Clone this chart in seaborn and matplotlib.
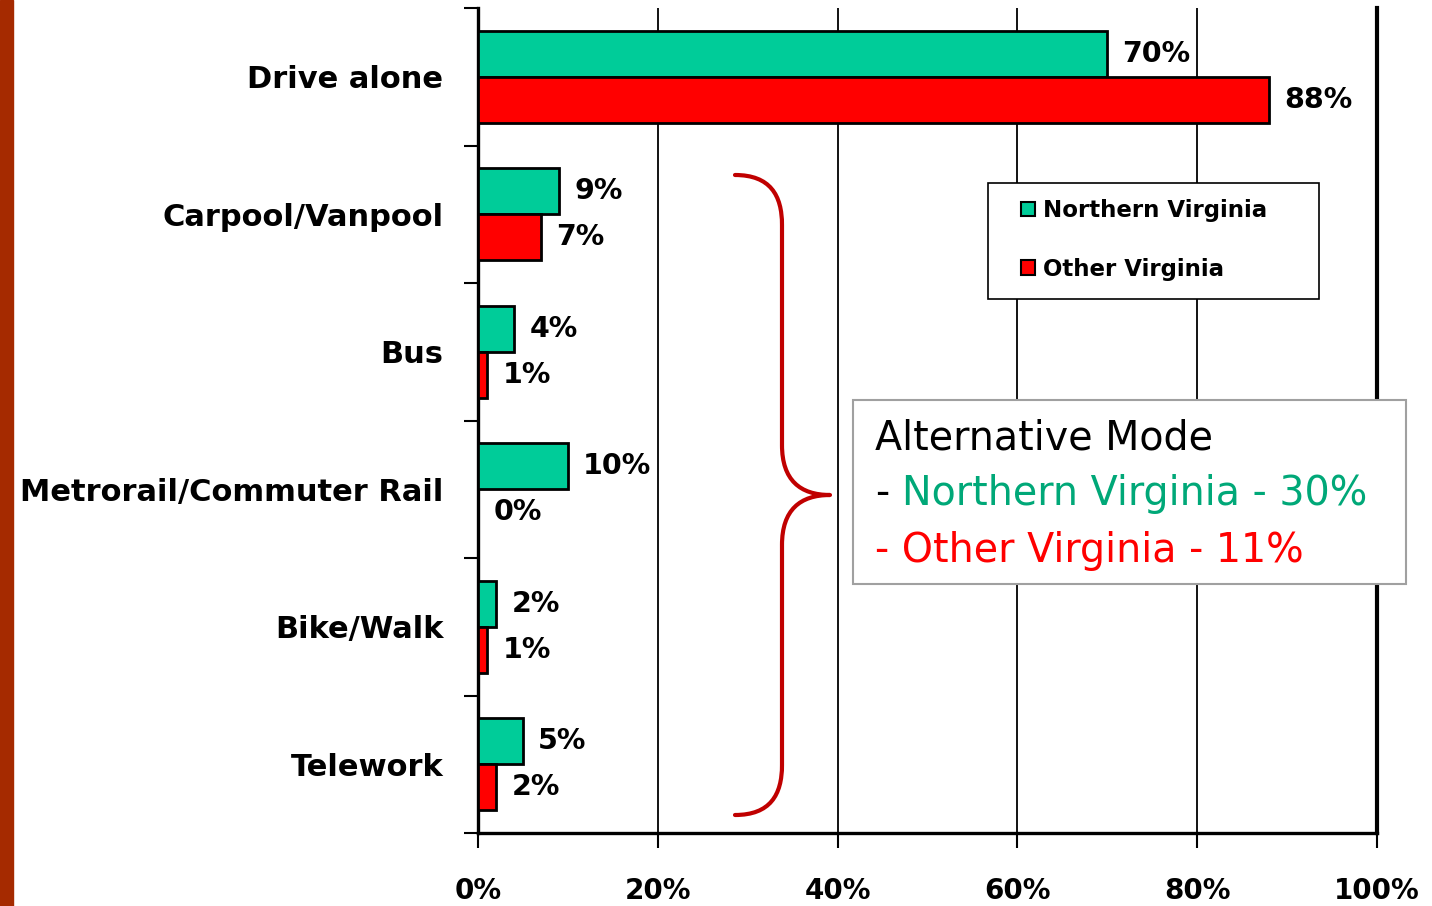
import numpy as np
import pandas as pd
import matplotlib
matplotlib.use("Agg")
import matplotlib.pyplot as plt
import seaborn as sns
from matplotlib.patches import Rectangle, PathPatch
from matplotlib.path import Path
from matplotlib.transforms import Affine2D

# data
modes = ["Drive alone", "Carpool/Vanpool", "Bus", "Metrorail/Commuter Rail", "Bike/Walk", "Telework"]
nova = [70, 9, 4, 10, 2, 5]
other = [88, 7, 1, 0, 1, 2]
regions = ["Northern Virginia", "Other Virginia"]
xticks = [0, 20, 40, 60, 80, 100]

green = "#00CC99"
red = "#FF0000"

df = pd.DataFrame({
    "mode": modes + modes,
    "region": [regions[0]] * len(modes) + [regions[1]] * len(modes),
    "share": nova + other,
})

sns.set_style("white")
plt.rcParams["font.family"] = ["DejaVu Sans"]
plt.rcParams["text.color"] = "black"
plt.rcParams["xtick.color"] = "black"
plt.rcParams["ytick.color"] = "black"

W, H = 1432, 906
fig = plt.figure(figsize=(W / 100, H / 100), dpi=100)
ax = fig.add_axes([478 / W, (H - 833) / H, 899 / W, 825 / H])
px = Affine2D().scale(1 / W, -1 / H).translate(0, 1) + fig.transFigure

sns.barplot(data=df, y="mode", x="share", hue="region", orient="h",
            palette=[green, red], saturation=1, width=0.67,
            edgecolor="black", linewidth=2, ax=ax, zorder=3)

for cont, vals in zip(ax.containers, [nova, other]):
    ax.bar_label(cont, labels=[f"{v}%" for v in vals], padding=11,
                 fontsize=20.5, fontweight="bold", color="black")

ax.set_xlim(0, 100)
ax.set_ylim(5.5, -0.5)
ax.set_xticks(xticks)
ax.set_xticklabels([f"{t}%" for t in xticks], fontsize=20, fontweight="bold")
ax.set_yticks(range(len(modes)))
ax.set_yticklabels(modes, fontsize=22, fontweight="bold")
ax.set_yticks(np.arange(-0.5, len(modes), 1), minor=True)
ax.tick_params(axis="y", which="both", left=True)
ax.tick_params(axis="y", which="major", length=0, pad=25)
ax.tick_params(axis="y", which="minor", length=10, width=1.5, direction="out")
ax.tick_params(axis="x", bottom=True, length=11, width=1.5, direction="out", pad=21)
ax.set_xlabel("")
ax.set_ylabel("")
ax.grid(axis="x", color="black", linewidth=1.3, zorder=0)
ax.set_axisbelow(True)

for side in ["left", "bottom"]:
    ax.spines[side].set_color("black")
    ax.spines[side].set_linewidth(2.4)
ax.spines["right"].set_color("black")
ax.spines["right"].set_linewidth(3)
ax.spines["top"].set_visible(False)

# legend (frame drawn separately to get the wide side margins)
leg = ax.legend(loc="center left", bbox_to_anchor=((1021 - 478) / 899, 1 - (240 - 8) / 825),
                fontsize=16.5, frameon=False,
                handlelength=0.6, handleheight=0.6, handletextpad=0.35,
                labelspacing=1.55, borderpad=0, borderaxespad=0)
for t in leg.get_texts():
    t.set_fontweight("bold")
for h in leg.legend_handles:
    h.set_edgecolor("black")
    h.set_linewidth(1.5)
leg.set_zorder(7)
ax.add_patch(Rectangle((988, 183), 331, 116, transform=px, facecolor="white",
                       edgecolor="black", linewidth=1.2, zorder=6, clip_on=False))

# left strip
fig.patches.append(Rectangle((0, 0), 13 / W, 1, transform=fig.transFigure,
                             color="#A52A00", zorder=0))

# brace (figure pixel coords, y down)
verts = [(735, 175), (770, 175), (782, 195), (782, 225),
         (782, 445),
         (782, 480), (800, 495), (830, 495),
         (800, 495), (782, 510), (782, 545),
         (782, 765),
         (782, 795), (770, 815), (735, 815)]
codes = [Path.MOVETO, Path.CURVE4, Path.CURVE4, Path.CURVE4,
         Path.LINETO,
         Path.CURVE4, Path.CURVE4, Path.CURVE4,
         Path.CURVE4, Path.CURVE4, Path.CURVE4,
         Path.LINETO,
         Path.CURVE4, Path.CURVE4, Path.CURVE4]
fig.patches.append(PathPatch(Path(verts, codes), transform=px, fill=False,
                             edgecolor="#C00000", linewidth=3, capstyle="round",
                             joinstyle="round", zorder=4))

# summary box
fig.patches.append(Rectangle((853 / W, 1 - 584 / H), 553 / W, 184 / H,
                             transform=fig.transFigure, facecolor="white",
                             edgecolor="#A0A0A0", linewidth=1.5, zorder=5))
fs = 28.5
fig.text(875 / W, 1 - 438 / H, "Alternative Mode", fontsize=fs, color="black",
         va="center", ha="left", zorder=6)
fig.text(875 / W, 1 - 494 / H, "-", fontsize=fs, color="black",
         va="center", ha="left", zorder=6)
fig.text(902 / W, 1 - 494 / H, "Northern Virginia - 30%", fontsize=fs,
         color="#00A878", va="center", ha="left", zorder=6)
fig.text(875 / W, 1 - 551 / H, "- Other Virginia - 11%", fontsize=fs,
         color="#FF0000", va="center", ha="left", zorder=6)

fig.savefig("out.png", dpi=100)
